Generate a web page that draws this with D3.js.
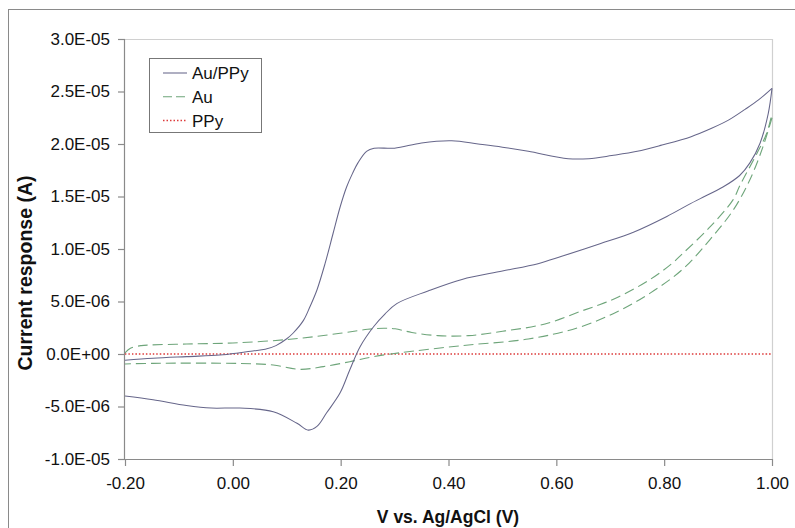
<!DOCTYPE html>
<html>
<head>
<meta charset="utf-8">
<script src="https://cdn.jsdelivr.net/npm/d3@7/dist/d3.min.js"></script>
<style>
  html, body { margin: 0; padding: 0; background: #fff; }
  svg { display: block; font-family: Arial, "Liberation Sans", sans-serif; }
</style>
</head>
<body>
<svg id="chart" width="795" height="528"></svg>
<script>
// ---- Data (potential in V, current in µA) ----
const auPpyForward = [
  [-0.200,-0.60],[-0.148,-0.41],[-0.086,-0.25],[-0.024,-0.10],[0.013,0.12],[0.037,0.29],
  [0.060,0.45],[0.080,0.80],[0.100,1.45],[0.112,2.00],[0.131,3.20],[0.143,4.50],[0.156,6.10],
  [0.171,8.60],[0.186,11.5],[0.199,14.0],[0.211,15.9],[0.222,17.2],[0.232,18.2],[0.248,19.3],
  [0.262,19.6],[0.300,19.6],[0.350,20.1],[0.406,20.3],[0.455,20.0],[0.500,19.7],[0.548,19.3],
  [0.622,18.6],[0.660,18.6],[0.703,18.9],[0.750,19.3],[0.796,19.9],[0.850,20.7],[0.888,21.5],
  [0.920,22.3],[0.950,23.3],[0.975,24.2],[1.000,25.3]
];
const auPpyReverse = [
  [1.000,25.3],[0.993,22.9],[0.978,20.1],[0.959,18.2],[0.940,17.0],[0.909,15.9],[0.867,14.8],
  [0.848,14.3],[0.805,13.1],[0.743,11.6],[0.681,10.5],[0.610,9.30],[0.566,8.60],[0.500,7.90],
  [0.425,7.10],[0.362,6.00],[0.304,4.80],[0.282,3.80],[0.261,2.60],[0.236,0.70],[0.217,-1.50],
  [0.199,-3.70],[0.174,-5.60],[0.156,-6.90],[0.140,-7.25],[0.119,-6.60],[0.075,-5.50],
  [0.013,-5.15],[-0.040,-5.15],[-0.086,-4.90],[-0.148,-4.35],[-0.200,-4.00]
];
const auForward = [
  [-0.200,0.10],[-0.190,0.54],[-0.170,0.80],[-0.154,0.86],[-0.086,0.95],[0.000,1.05],
  [0.106,1.40],[0.199,1.97],[0.250,2.35],[0.280,2.45],[0.301,2.40],[0.332,2.05],[0.380,1.75],
  [0.437,1.75],[0.505,2.20],[0.579,2.86],[0.647,4.10],[0.680,4.70],[0.714,5.40],[0.774,7.10],
  [0.814,8.60],[0.835,9.60],[0.885,12.1],[0.928,14.7],[0.940,16.0],[0.972,19.1],[0.990,21.0],
  [1.000,22.9]
];
const auReverse = [
  [1.000,22.5],[0.983,19.7],[0.959,16.6],[0.928,13.7],[0.885,10.9],[0.835,8.10],[0.774,5.80],
  [0.712,4.00],[0.640,2.50],[0.548,1.43],[0.425,0.80],[0.310,0.12],[0.261,-0.25],[0.217,-0.73],
  [0.168,-1.20],[0.125,-1.46],[0.075,-1.05],[0.013,-0.90],[-0.148,-0.89],[-0.200,-0.95]
];
const ppyTrace = [
  [-0.200,0.00],[0.000,0.00],[0.200,0.00],[0.400,0.00],[0.600,0.00],[0.800,0.00],[1.000,0.00]
];

const seriesNames = ["Au/PPy", "Au", "PPy"];
const xTicks = [-0.2, 0.0, 0.2, 0.4, 0.6, 0.8, 1.0];
const xTickLabels = ["-0.20", "0.00", "0.20", "0.40", "0.60", "0.80", "1.00"];
const yTicks = [-1.0e-5, -5.0e-6, 0, 5.0e-6, 1.0e-5, 1.5e-5, 2.0e-5, 2.5e-5, 3.0e-5];
const yTickLabels = ["-1.0E-05", "-5.0E-06", "0.0E+00", "5.0E-06", "1.0E-05", "1.5E-05", "2.0E-05", "2.5E-05", "3.0E-05"];
const xTitle = "V vs. Ag/AgCl (V)";
const yTitle = "Current response (A)";

// ---- Drawing ----
const svg = d3.select("#chart");
const M = { left: 125, top: 39, right: 772, bottom: 459 };

svg.append("rect").attr("x", 8.5).attr("y", 9.5).attr("width", 820).attr("height", 600)
  .attr("fill", "none").attr("stroke", "#8a8a8a").attr("stroke-width", 1);

const x = d3.scaleLinear().domain([-0.2, 1.0]).range([M.left, M.right]);
const y = d3.scaleLinear().domain([-1.0e-5, 3.0e-5]).range([M.bottom, M.top]);

// plot frame (top & right light)
svg.append("path")
  .attr("d", `M${M.left},${M.top + 0.5}H${M.right + 0.5}V${M.bottom}`)
  .attr("fill", "none").attr("stroke", "#d0d0d0").attr("stroke-width", 1.2);

const toA = arr => arr.map(d => [d[0], d[1] * 1e-6]);
const line = d3.line().x(d => x(d[0])).y(d => y(d[1])).curve(d3.curveCatmullRom.alpha(0.5));

const colAuPpy = "#66668a", colAu = "#6ea57a", colPpy = "#dd3b3b";
const g = svg.append("g");
// PPy dotted
g.append("path").attr("d", line(toA(ppyTrace)))
  .attr("fill", "none").attr("stroke", colPpy).attr("stroke-width", 1.5)
  .attr("stroke-dasharray", "1.5,2");
// Au dashed
[auForward, auReverse].forEach(arr => {
  g.append("path").attr("d", line(toA(arr)))
    .attr("fill", "none").attr("stroke", colAu).attr("stroke-width", 1.1)
    .attr("stroke-dasharray", "10,5");
});
// Au/PPy solid
[auPpyForward, auPpyReverse].forEach(arr => {
  g.append("path").attr("d", line(toA(arr)))
    .attr("fill", "none").attr("stroke", colAuPpy).attr("stroke-width", 1.05);
});

// axes
const xAxis = d3.axisBottom(x).tickValues(xTicks).tickSize(7).tickPadding(11)
  .tickFormat((d, i) => xTickLabels[i]);
const yAxis = d3.axisLeft(y).tickValues(yTicks).tickSize(7).tickPadding(8)
  .tickFormat((d, i) => yTickLabels[i]);

const gx = svg.append("g").attr("transform", `translate(0,${M.bottom})`).call(xAxis);
const gy = svg.append("g").attr("transform", `translate(${M.left},0)`).call(yAxis);
[gx, gy].forEach(a => {
  a.select(".domain").attr("stroke", "#8a8a8a").attr("stroke-width", 1.2);
  a.selectAll(".tick line").attr("stroke", "#8a8a8a").attr("stroke-width", 1.2);
  a.selectAll(".tick text").attr("fill", "#111").style("font-size", "17px")
    .style("font-family", "Arial, 'Liberation Sans', sans-serif");
});
gx.select(".domain").attr("d", `M${M.left},0.5H${M.right}`);
gy.select(".domain").attr("d", `M-0.5,${M.top}V${M.bottom}`);

// titles
svg.append("text").attr("x", 448).attr("y", 523).attr("text-anchor", "middle")
  .style("font-size", "17.5px").style("font-weight", "bold").attr("fill", "#111")
  .text(xTitle);
svg.append("text").attr("transform", "translate(32,273) rotate(-90)").attr("text-anchor", "middle")
  .style("font-size", "19.5px").style("font-weight", "bold").attr("fill", "#111")
  .text(yTitle);

// legend
const lg = svg.append("g");
lg.append("rect").attr("x", 149.5).attr("y", 58.5).attr("width", 112).attr("height", 74)
  .attr("fill", "#fff").attr("stroke", "#777").attr("stroke-width", 1);
const legendStyles = [
  { color: colAuPpy, dash: null, w: 1.05 },
  { color: colAu, dash: "9,4", w: 1.1 },
  { color: colPpy, dash: "1.5,2", w: 1.5 }
];
seriesNames.forEach((name, i) => {
  const cy = 73 + i * 23.8;
  lg.append("line").attr("x1", 163).attr("x2", 187).attr("y1", cy).attr("y2", cy)
    .attr("stroke", legendStyles[i].color).attr("stroke-width", legendStyles[i].w)
    .attr("stroke-dasharray", legendStyles[i].dash);
  lg.append("text").attr("x", 192).attr("y", cy + 6).style("font-size", "17px")
    .attr("fill", "#111").text(name);
});
</script>
</body>
</html>
